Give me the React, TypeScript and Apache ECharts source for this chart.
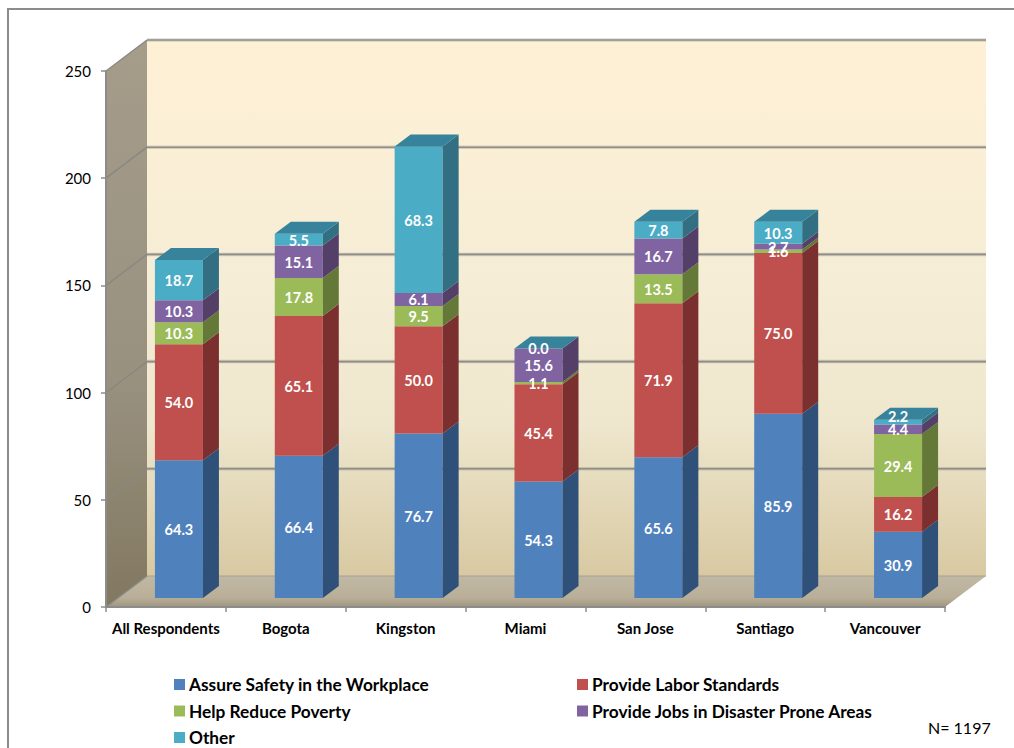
import React, { useEffect, useRef } from "react";
import * as echarts from "echarts";

const categories = ["All Respondents", "Bogota", "Kingston", "Miami", "San Jose", "Santiago", "Vancouver"];
const safety = [64.3, 66.4, 76.7, 54.3, 65.6, 85.9, 30.9];
const labor = [54.0, 65.1, 50.0, 45.4, 71.9, 75.0, 16.2];
const poverty = [10.3, 17.8, 9.5, 1.1, 13.5, 1.6, 29.4];
const jobs = [10.3, 15.1, 6.1, 15.6, 16.7, 2.7, 4.4];
const other = [18.7, 5.5, 68.3, 0.0, 7.8, 10.3, 2.2];
const yTicks = [0, 50, 100, 150, 200, 250];

const seriesDefs = [
  { name: "Assure Safety in the Workplace", values: safety, front: "#4f81bd", side: "#2f5179" },
  { name: "Provide Labor Standards", values: labor, front: "#c0504d", side: "#7b2f2e" },
  { name: "Help Reduce Poverty", values: poverty, front: "#9bbb59", side: "#647838" },
  { name: "Provide Jobs in Disaster Prone Areas", values: jobs, front: "#8064a2", side: "#533f68" },
  { name: "Other", values: other, front: "#4bacc6", side: "#326f83" },
];

// Depth of the box behind the front axis plane, in pixels.
const WALL_DX = 41;
const WALL_DY = -31;
// Bars sit on the floor a little behind the front edge.
const BAR_DX = 13;
const BAR_DY = -9;
const BAR_HALF = 24;
const BAR_SIDE_DX = 16;
const BAR_SIDE_DY = -12;
const TOP_FACE = "#37839b";
const LABEL_FONT = "Lato";

const vGrad = (stops: [number, string][]) =>
  new echarts.graphic.LinearGradient(0, 0, 0, 1, stops.map(([offset, color]) => ({ offset, color })));

const poly = (points: number[][], fill: any, z2 = 0) => ({
  type: "polygon",
  silent: true,
  z2,
  shape: { points },
  style: { fill, stroke: "none" },
});

const seg = (x1: number, y1: number, x2: number, y2: number, stroke: string, lineWidth: number) => ({
  type: "line",
  silent: true,
  shape: { x1, y1, x2, y2 },
  style: { stroke, lineWidth, fill: "none" },
});

// Back wall, side wall, floor and their gridlines, all placed from the value scale.
const renderBox = (params: any, api: any) => {
  const cs = params.coordSys;
  const left = cs.x;
  const right = cs.x + cs.width;
  const y0 = api.coord([0, yTicks[0]])[1];
  const yMax = api.coord([0, yTicks[yTicks.length - 1]])[1];
  const children: any[] = [
    poly(
      [[left + WALL_DX, yMax + WALL_DY], [right + WALL_DX, yMax + WALL_DY], [right + WALL_DX, y0 + WALL_DY], [left + WALL_DX, y0 + WALL_DY]],
      vGrad([[0, "#fef0d5"], [0.45, "#f6edd6"], [0.72, "#eee6cd"], [1, "#d8c9a2"]])
    ),
    poly(
      [[left, yMax], [left + WALL_DX, yMax + WALL_DY], [left + WALL_DX, y0 + WALL_DY], [left, y0]],
      vGrad([[0, "#a59c8a"], [0.6, "#999180"], [1, "#827860"]])
    ),
    poly(
      [[left, y0], [left + WALL_DX, y0 + WALL_DY], [right + WALL_DX, y0 + WALL_DY], [right, y0]],
      vGrad([[0, "#c1b8a3"], [0.7, "#b9af99"], [1, "#a0967e"]])
    ),
  ];
  yTicks.forEach((t) => {
    const y = api.coord([0, t])[1];
    children.push(seg(left, y, left + WALL_DX, y + WALL_DY, "rgba(135,135,130,0.95)", 1.5));
    if (t === 0) {
      // The floor meets the back wall with a thin, pale seam.
      children.push(seg(left + WALL_DX, y + WALL_DY, right + WALL_DX, y + WALL_DY, "#a3a09a", 1));
      return;
    }
    children.push(seg(left + WALL_DX, y + WALL_DY, right + WALL_DX, y + WALL_DY, "rgba(130,128,122,0.3)", 3.5));
    children.push(seg(left + WALL_DX, y + WALL_DY, right + WALL_DX, y + WALL_DY, "#8f8d87", 1.6));
  });
  return { type: "group", children };
};

// One stacked segment: front face, side face, a lid for the top series, and its value.
const makeBarRenderer = (front: string, side: string, isTop: boolean, seriesName: string) => (params: any, api: any) => {
  const cat = api.value(0);
  const base = api.value(1);
  const value = api.value(2);
  const [cx, yBase] = api.coord([cat, base]);
  const yTop = api.coord([cat, base + value])[1];
  const x0 = cx + BAR_DX - BAR_HALF;
  const x1 = cx + BAR_DX + BAR_HALF;
  const yb = yBase + BAR_DY;
  const yt = yTop + BAR_DY;
  const children: any[] = [
    poly([[x0, yt], [x1, yt], [x1, yb], [x0, yb]], front),
    poly([[x1, yt], [x1 + BAR_SIDE_DX, yt + BAR_SIDE_DY], [x1 + BAR_SIDE_DX, yb + BAR_SIDE_DY], [x1, yb]], side),
  ];
  if (isTop) {
    children.push(
      poly([[x0, yt], [x0 + BAR_SIDE_DX, yt + BAR_SIDE_DY], [x1 + BAR_SIDE_DX, yt + BAR_SIDE_DY], [x1, yt]], TOP_FACE)
    );
  }
  // The thin Vancouver "Other" label was lifted onto the lid so it stays readable.
  const lift = seriesName === "Other" && categories[cat] === "Vancouver" ? -6 : 0;
  children.push({
    type: "text",
    silent: true,
    z2: 50,
    style: {
      text: value.toFixed(1),
      x: cx + BAR_DX,
      y: (yt + yb) / 2 + lift + 0.5,
      align: "center",
      verticalAlign: "middle",
      fill: "#ffffff",
      fontFamily: LABEL_FONT,
      fontWeight: "bold",
      fontSize: 14.5,
    },
  });
  return { type: "group", children };
};

export default function App() {
  const ref = useRef<HTMLDivElement>(null);

  useEffect(() => {
    const chart = echarts.init(ref.current!, undefined, { renderer: "svg" });
    const running = categories.map(() => 0);
    const barSeries = seriesDefs.map((def, idx) => {
      const data = def.values.map((v, i) => {
        const row = [i, running[i], v];
        running[i] += v;
        return row;
      });
      return {
        type: "custom",
        name: def.name,
        z: 2,
        silent: true,
        clip: false,
        itemStyle: { color: def.front },
        encode: { x: 0, y: [1, 2] },
        renderItem: makeBarRenderer(def.front, def.side, idx === seriesDefs.length - 1, def.name),
        data,
      };
    });
    const legendBase = {
      orient: "vertical",
      icon: "rect",
      itemWidth: 11,
      itemHeight: 11,
      itemGap: 9.5,
      selectedMode: false,
      padding: 0,
      textStyle: { fontFamily: LABEL_FONT, fontWeight: "bold", fontSize: 17.3, color: "#000000", padding: [0, 0, 0, -1] },
    };
    chart.setOption({
      animation: false,
      backgroundColor: "#ffffff",
      grid: { left: 106, right: 69, top: 71, bottom: 141, containLabel: false },
      xAxis: {
        type: "category",
        data: categories,
        z: 3,
        axisLine: { lineStyle: { color: "#8c8c8c", width: 2 } },
        axisTick: { show: true, length: 5, alignWithLabel: false, lineStyle: { color: "#8c8c8c", width: 1.5 } },
        axisLabel: { interval: 0, margin: 13, color: "#000000", fontFamily: LABEL_FONT, fontWeight: "bold", fontSize: 15 },
      },
      yAxis: {
        type: "value",
        min: 0,
        max: 250,
        interval: 50,
        z: 3,
        splitLine: { show: false },
        axisLine: { show: true, lineStyle: { color: "#8c8c8c", width: 2 } },
        axisTick: { show: true, length: 5, lineStyle: { color: "#8c8c8c", width: 1.5 } },
        axisLabel: { margin: 15, color: "#000000", fontFamily: LABEL_FONT, fontSize: 15, padding: [2, 0, 0, 0] },
      },
      legend: [
        { ...legendBase, left: 174, top: 676, data: [seriesDefs[0].name, seriesDefs[2].name, seriesDefs[4].name] },
        { ...legendBase, left: 577, top: 676, data: [seriesDefs[1].name, seriesDefs[3].name] },
      ],
      graphic: [
        { type: "line", silent: true, shape: { x1: 8, y1: 9, x2: 1014, y2: 9 }, style: { stroke: "#8c8c8c", lineWidth: 2 } },
        { type: "line", silent: true, shape: { x1: 8, y1: 8, x2: 8, y2: 748 }, style: { stroke: "#8c8c8c", lineWidth: 2 } },
        {
          type: "text",
          silent: true,
          x: 928,
          y: 719,
          style: { text: "N= 1197", fill: "#000000", fontFamily: LABEL_FONT, fontSize: 16 },
        },
      ],
      series: [
        {
          type: "custom",
          z: 1,
          silent: true,
          clip: false,
          encode: { x: 0, y: 1 },
          renderItem: renderBox,
          data: [[0, 0]],
        },
        ...barSeries,
      ],
    });
    return () => chart.dispose();
  }, []);

  return <div ref={ref} style={{ position: "absolute", left: 0, top: 0, width: 1014, height: 748 }} />;
}
